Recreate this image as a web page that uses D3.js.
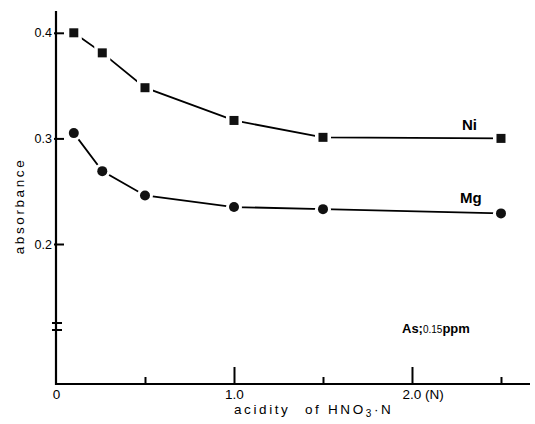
<!DOCTYPE html>
<html>
<head>
<meta charset="utf-8">
<script src="https://cdn.jsdelivr.net/npm/d3@7"></script>
<style>
  html, body { margin: 0; padding: 0; background: #fff; }
  svg { display: block; font-family: "Liberation Sans", Arial, sans-serif; }
</style>
</head>
<body>
<svg id="chart" width="535" height="424"></svg>
<script>
// ---- data ----
const acidity = [0.1, 0.26, 0.5, 1.0, 1.5, 2.5];
const niValues = [0.400, 0.381, 0.348, 0.317, 0.301, 0.300];
const mgValues = [0.305, 0.269, 0.246, 0.235, 0.233, 0.229];
const yTickValues = [0.2, 0.3, 0.4];
const yTickLabels = ["0.2", "0.3", "0.4"];
const xMajorTicks = [0, 1.0, 2.0];
const xMajorLabels = ["0", "1.0", "2.0"];
const xMinorTicks = [0.5, 1.5, 2.5];

// ---- layout ----
const svg = d3.select("#chart");
const x0 = 56, xEnd = 530, axisY = 384, axisTop = 11;
const x = d3.scaleLinear().domain([0, 2.663]).range([x0, xEnd]);
const y = d3.scaleLinear().domain([0.2, 0.4]).range([244, 32.8]);

// y axis line (with break)
svg.append("line").attr("x1", x0).attr("x2", x0).attr("y1", axisTop).attr("y2", axisY + 1)
  .attr("stroke", "#000").attr("stroke-width", 2.2);
[323, 330].forEach(by => {
  svg.append("line").attr("x1", x0 - 4).attr("x2", x0 + 6).attr("y1", by).attr("y2", by)
    .attr("stroke", "#000").attr("stroke-width", 2);
});

// y ticks
const yAxis = d3.axisLeft(y).tickValues(yTickValues)
  .tickFormat((d, i) => yTickLabels[i]).tickSizeInner(-8).tickSizeOuter(0).tickPadding(4);
const gy = svg.append("g").attr("transform", `translate(${x0},0)`).call(yAxis);
gy.select(".domain").remove();
gy.selectAll(".tick line").attr("stroke-width", 2).attr("x1", -2);
gy.selectAll(".tick text").attr("font-size", 12.5).attr("fill", "#000")
  .attr("font-family", "Liberation Sans, Arial, sans-serif");

// x axis line
svg.append("line").attr("x1", x0 - 1).attr("x2", xEnd).attr("y1", axisY).attr("y2", axisY)
  .attr("stroke", "#000").attr("stroke-width", 2.2);

// x major ticks
const xAxis = d3.axisBottom(x).tickValues(xMajorTicks)
  .tickFormat((d, i) => xMajorLabels[i]).tickSizeInner(-17).tickSizeOuter(0).tickPadding(5);
const gx = svg.append("g").attr("transform", `translate(0,${axisY})`).call(xAxis);
gx.select(".domain").remove();
gx.selectAll(".tick line").attr("stroke-width", 2).attr("stroke", d => d === 0 ? "none" : "#000");
gx.selectAll(".tick text").attr("font-size", 13.5).attr("fill", "#000")
  .attr("font-family", "Liberation Sans, Arial, sans-serif");
gx.selectAll(".tick").filter(d => d === 2.0).select("text")
  .attr("text-anchor", "start").attr("x", -10).text("2.0 (N)");

// x minor ticks
const xMinor = d3.axisBottom(x).tickValues(xMinorTicks).tickFormat("")
  .tickSizeInner(-7).tickSizeOuter(0);
const gm = svg.append("g").attr("transform", `translate(0,${axisY})`).call(xMinor);
gm.select(".domain").remove();
gm.selectAll(".tick line").attr("stroke-width", 2);

// axis titles
const xt = svg.append("text").attr("x", 234).attr("y", 413.5)
  .attr("font-size", 13.5).attr("letter-spacing", 2.6).attr("fill", "#000");
xt.append("tspan").text("acidity");
xt.append("tspan").attr("x", 305).text("of");
xt.append("tspan").attr("x", 328).text("HNO");
xt.append("tspan").attr("font-size", 10).attr("dy", 3).text("3");
xt.append("tspan").attr("dy", -3).text("·N");

svg.append("text")
  .attr("transform", "translate(24,206) rotate(-90)")
  .attr("text-anchor", "middle").attr("font-size", 13.5).attr("letter-spacing", 2.6)
  .attr("fill", "#000").text("absorbance");

// series
const series = [
  { name: "Ni", values: niValues, shape: "square" },
  { name: "Mg", values: mgValues, shape: "circle" }
];
const line = d3.line().x(d => x(d[0])).y(d => y(d[1]));
series.forEach(s => {
  const pts = acidity.map((a, i) => [a, s.values[i]]);
  svg.append("path").datum(pts).attr("d", line)
    .attr("fill", "none").attr("stroke", "#000").attr("stroke-width", 1.8);
  const g = svg.append("g");
  if (s.shape === "square") {
    g.selectAll(".halo").data(pts).enter().append("rect")
      .attr("x", d => x(d[0]) - 8).attr("y", d => y(d[1]) - 8)
      .attr("width", 16).attr("height", 16).attr("fill", "#fff");
    g.selectAll(".m").data(pts).enter().append("rect")
      .attr("x", d => x(d[0]) - 4.5).attr("y", d => y(d[1]) - 4.5)
      .attr("width", 9).attr("height", 9).attr("fill", "#111");
  } else {
    g.selectAll(".halo").data(pts).enter().append("circle")
      .attr("cx", d => x(d[0])).attr("cy", d => y(d[1])).attr("r", 8).attr("fill", "#fff");
    g.selectAll(".m").data(pts).enter().append("circle")
      .attr("cx", d => x(d[0])).attr("cy", d => y(d[1])).attr("r", 5).attr("fill", "#111");
  }
});

// series labels
svg.append("text").attr("x", 462).attr("y", 130).attr("font-size", 15)
  .attr("font-weight", "bold").attr("fill", "#000").text("Ni");
svg.append("text").attr("x", 460).attr("y", 203).attr("font-size", 15)
  .attr("font-weight", "bold").attr("fill", "#000").text("Mg");

// annotation
const an = svg.append("text").attr("x", 402).attr("y", 333).attr("fill", "#000");
an.append("tspan").attr("font-size", 13).attr("font-weight", "bold").text("As;");
an.append("tspan").attr("font-size", 10).text("0.15");
an.append("tspan").attr("font-size", 13).attr("font-weight", "bold").text("ppm");
</script>
</body>
</html>
